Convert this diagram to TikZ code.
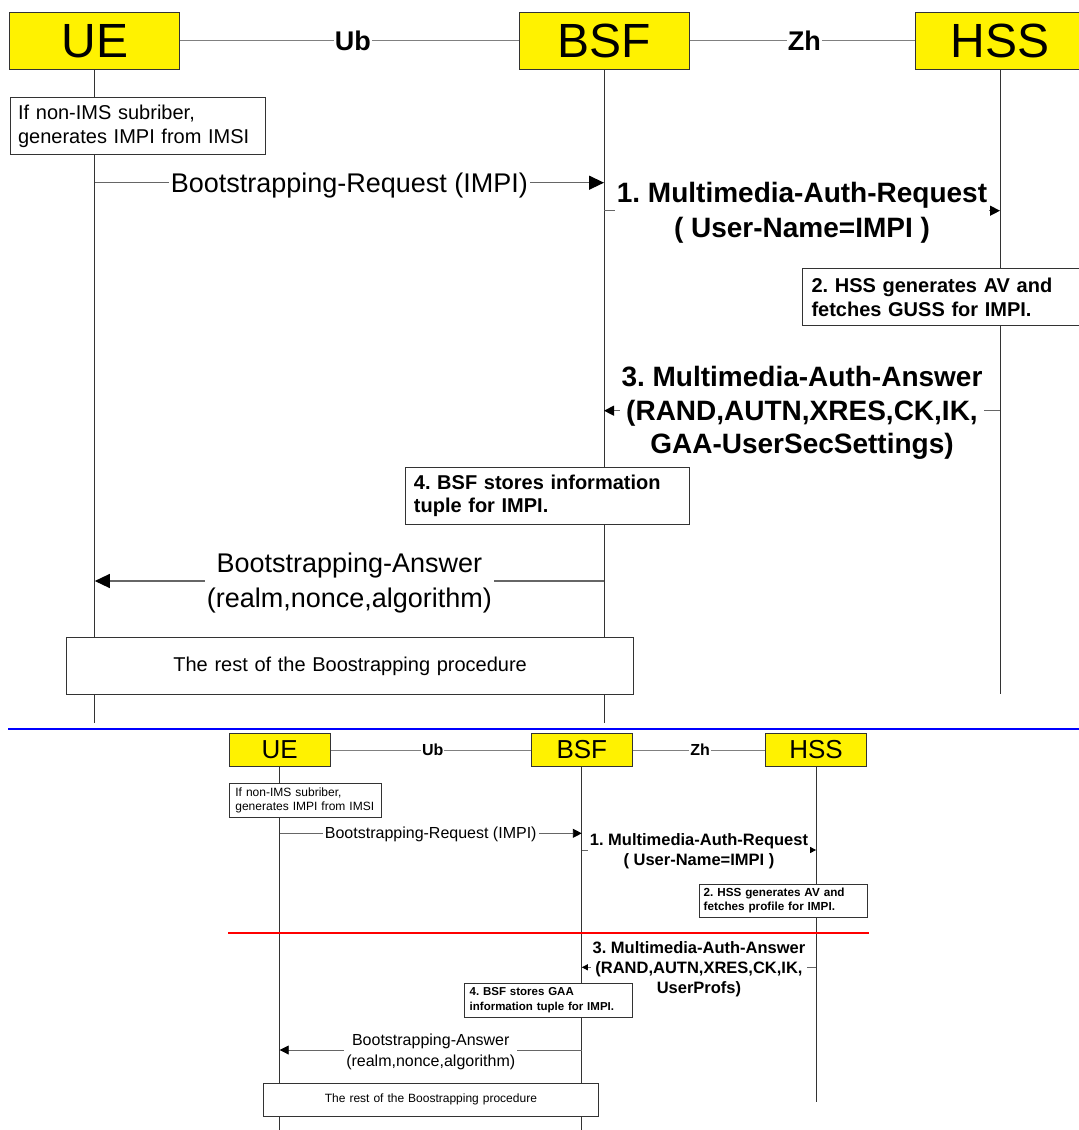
\documentclass[tikz,border=0pt]{standalone}
\usepackage{fontspec}
\setmainfont{Liberation Sans}
\usepackage{tikz}
\usetikzlibrary{arrows.meta, calc}
\frenchspacing

\newcommand{\fsz}[2]{\fontsize{#1}{#2}\selectfont}

\begin{document}
\begin{tikzpicture}[x=1pt, y=-1pt,
    entity/.style={draw=black!80, fill=yellow, line width=1pt, inner sep=0pt},
    lifeline/.style={draw=black!80, line width=1pt},
    iface/.style={draw=black!50, line width=0.8pt},
    ifacelabel/.style={fill=white, inner xsep=1pt, inner ysep=0pt},
    notebox/.style={draw=black!80, fill=white, line width=1pt, anchor=north west, inner ysep=0pt},
    msg/.style={draw=black!60, line width=1.3pt},
    msglabel/.style={fill=white, align=center, inner xsep=2pt, inner ysep=1pt, yshift=-2.5pt},
    bigtip/.style={-{Triangle[length=15pt, width=14pt, color=black]}},
    smalltip/.style={-{Triangle[length=10pt, width=10pt, color=black]}},
    bigtipb/.style={-{Triangle[length=9pt, width=9pt, color=black]}},
    smalltipb/.style={-{Triangle[length=6pt, width=6pt, color=black]}}]
\useasboundingbox (0,0) rectangle (1079,1130);

% ---------------- Upper chart ----------------
\pgfmathsetmacro{\topEnd}{722.7}
\pgfmathsetmacro{\hssEnd}{694}

% Draw entities
\node[entity, minimum width=170pt, minimum height=57pt, font=\fsz{48}{48}] (ue) at (94.8,40.8) {UE};
\node[entity, minimum width=170pt, minimum height=57pt, font=\fsz{48}{48}] (bsf) at (604,40.8) {BSF};
\node[entity, minimum width=170pt, minimum height=57pt, font=\fsz{48}{48}] (hss) at (1000,40.8) {HSS};

% Draw interfaces
\draw[iface] (ue) -- (bsf) node[ifacelabel, pos=0.51, font=\bfseries\fsz{27}{27}] (ub) {Ub};
\draw[iface] (bsf) -- (hss) node[ifacelabel, pos=0.51, font=\bfseries\fsz{27}{27}] (zh) {Zh};

% Draw lifelines
\draw[lifeline] (ue.south) -- (ue.south |- 0,\topEnd);
\draw[lifeline] (bsf.south) -- (bsf.south |- 0,\topEnd);
\draw[lifeline] (hss.south) -- (hss.south |- 0,\hssEnd);

% Draw messages
\draw[msg, bigtip] (ue.south |- 0,182.7) -- (bsf.south |- 0,182.7)
  node[msglabel, midway, font=\fsz{27}{34}] (req) {Bootstrapping-Request (IMPI)};
\draw[msg, smalltip] (bsf.south |- 0,210.7) -- (hss.south |- 0,210.7)
  node[msglabel, midway, font=\bfseries\fsz{28}{35}] (mar) {1. Multimedia-Auth-Request\\( User-Name=IMPI )};
\draw[msg, smalltip] (hss.south |- 0,410.7) -- (bsf.south |- 0,410.7)
  node[msglabel, midway, font=\bfseries\fsz{28}{33.5}] (maa) {3. Multimedia-Auth-Answer\\(RAND,AUTN,XRES,CK,IK,\\GAA-UserSecSettings)};
\draw[msg, bigtip] (bsf.south |- 0,581) -- (ue.south |- 0,581)
  node[msglabel, midway, font=\fsz{27}{35}] (ans) {Bootstrapping-Answer\\(realm,nonce,algorithm)};

% Draw notes
\node[notebox, text width=239pt, inner xsep=8pt, minimum height=57pt, align=left, font=\fsz{20}{23.4}] (imsi) at (9.6,97.3) {If non-IMS subriber,\\generates IMPI from IMSI};
\node[notebox, text width=265pt, inner xsep=9pt, minimum height=56.7pt, align=left, font=\bfseries\fsz{20}{24}] (gen) at (802,268.3) {2. HSS generates AV and\\fetches GUSS for IMPI.};
\node[notebox, text width=267pt, inner xsep=8.4pt, minimum height=57pt, align=left, font=\bfseries\fsz{20}{23.4}] (store) at (405,466.7) {4. BSF stores information\\tuple for IMPI.};
\node[notebox, text width=550pt, inner xsep=8.35pt, minimum height=57pt, align=center, font=\fsz{20}{24}] (rest) at (66.3,637.3) {The rest of the Boostrapping procedure};

% Draw separator
\draw[blue, line width=2pt] (8,729) -- (1079,729);

% ---------------- Lower chart ----------------
\pgfmathsetmacro{\botEnd}{1130}
\pgfmathsetmacro{\hssEndB}{1101.7}

% Draw entities
\node[entity, minimum width=100.7pt, minimum height=33.4pt, font=\fsz{26}{26}] (ueb) at (279.7,750) {UE};
\node[entity, minimum width=100.8pt, minimum height=33.4pt, font=\fsz{26}{26}] (bsfb) at (581.8,750) {BSF};
\node[entity, minimum width=101pt, minimum height=33.4pt, font=\fsz{26}{26}] (hssb) at (816.1,750) {HSS};

% Draw interfaces
\draw[iface] (ueb) -- (bsfb) node[ifacelabel, pos=0.51, font=\bfseries\fsz{16}{16}] (ubb) {Ub};
\draw[iface] (bsfb) -- (hssb) node[ifacelabel, pos=0.51, font=\bfseries\fsz{16}{16}] (zhb) {Zh};

% Draw lifelines
\draw[lifeline, line width=0.8pt] (ueb.south) -- (ueb.south |- 0,\botEnd);
\draw[lifeline, line width=0.8pt] (bsfb.south) -- (bsfb.south |- 0,\botEnd);
\draw[lifeline, line width=0.8pt] (hssb.south) -- (hssb.south |- 0,\hssEndB);

% Draw messages
\draw[msg, bigtipb, line width=0.9pt] (ueb.south |- 0,833.3) -- (bsfb.south |- 0,833.3)
  node[msglabel, midway, yshift=1pt, font=\fsz{16}{20}] (reqb) {Bootstrapping-Request (IMPI)};
\draw[msg, smalltipb, line width=0.9pt] (bsfb.south |- 0,850) -- (hssb.south |- 0,850)
  node[msglabel, midway, yshift=1pt, font=\bfseries\fsz{16.5}{20}] (marb) {1. Multimedia-Auth-Request\\( User-Name=IMPI )};
\draw[msg, smalltipb, line width=0.9pt] (hssb.south |- 0,967.3) -- (bsfb.south |- 0,967.3)
  node[msglabel, midway, yshift=1pt, font=\bfseries\fsz{16.5}{20}] (maab) {3. Multimedia-Auth-Answer\\(RAND,AUTN,XRES,CK,IK,\\UserProfs)};
\draw[msg, bigtipb, line width=0.9pt] (bsfb.south |- 0,1050) -- (ueb.south |- 0,1050)
  node[msglabel, midway, yshift=1pt, font=\fsz{16}{21}] (ansb) {Bootstrapping-Answer\\(realm,nonce,algorithm)};

% Draw notes
\node[notebox, line width=0.8pt, text width=140pt, inner xsep=5.7pt, minimum height=33.4pt, align=left, font=\fsz{12}{14}] (imsib) at (229.3,783.3) {If non-IMS subriber,\\generates IMPI from IMSI};
\node[notebox, line width=0.8pt, text width=158.8pt, inner xsep=4.6pt, minimum height=33pt, align=left, font=\bfseries\fsz{11.7}{14.6}] (genb) at (698.7,883.7) {2. HSS generates AV and\\fetches profile for IMPI.};
\node[notebox, line width=0.8pt, text width=157.4pt, inner xsep=5pt, minimum height=33.4pt, align=left, font=\bfseries\fsz{11.5}{15}] (storeb) at (464.3,983.3) {4. BSF stores GAA\\information tuple for IMPI.};
\node[notebox, line width=0.8pt, text width=324pt, inner xsep=5.8pt, minimum height=33.3pt, align=center, font=\fsz{12}{14}] (restb) at (262.7,1082.7) {The rest of the Boostrapping procedure};

% Draw separator
\draw[red, line width=2pt] (228.3,932.7) -- (869.3,932.7);
\end{tikzpicture}
\end{document}
